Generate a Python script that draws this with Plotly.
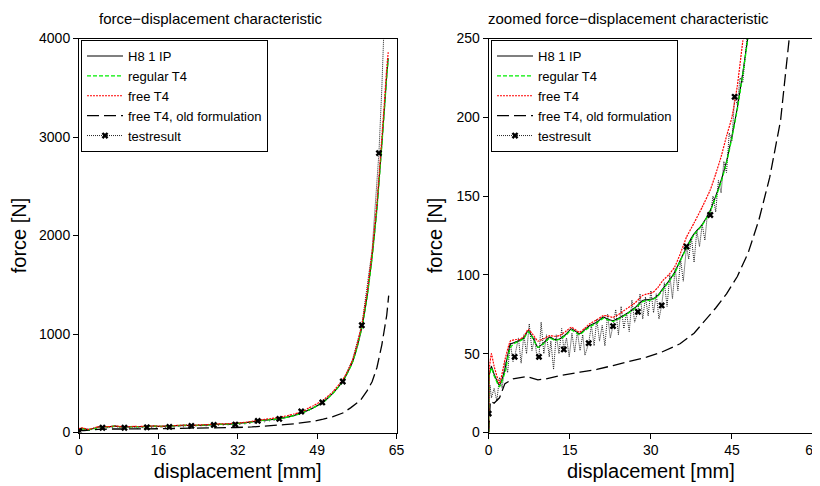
import plotly.graph_objects as go

# ---------------- data ----------------
fe_x = [0, 0.1, 0.5, 1, 2, 3, 4, 5, 5.7, 6.5, 7.3, 8.2, 9.1, 10.2, 11.3, 12.2, 13.1, 14.2,
        15.3, 16.8, 17.7, 18.7, 20, 21.2, 22, 23, 24.3, 25.5, 27, 28.5, 30.4, 31.3, 32.2,
        33.3, 34.4, 35.4, 36.6, 38, 39.5, 41, 42, 43, 44, 45, 46, 47, 48, 50, 52, 54, 55,
        56, 57, 58, 59, 60, 61, 62, 62.5, 63, 63.3]

h8_y = [0, 36, 42, 37, 30, 40, 56, 57.5, 58.4, 60, 64.7, 60, 54, 57, 60.5, 59, 59.4, 62,
        65.8, 62.6, 65, 67.9, 70, 73.2, 72, 71, 73, 75.3, 79, 83.8, 84.8, 87, 91.2, 96,
        101.7, 109, 117.6, 126, 132, 141, 150, 160, 172, 188, 206, 228, 252, 310, 400, 520,
        610, 715, 880, 1090, 1390, 1780, 2280, 2930, 3270, 3620, 3800]

regular_t4_y = [0, 36, 41, 36, 29, 38, 54, 57, 58, 59.5, 64, 59.5, 54, 56.5, 60, 58.5, 59,
                61.5, 65, 62, 64.5, 67, 69.5, 72.5, 71.5, 70.5, 72.5, 75, 78.5, 83, 84.5,
                86.5, 90.5, 95.5, 101, 108.5, 117, 125.5, 131.5, 140.5, 149, 159, 171, 187,
                205, 227, 251, 308, 398, 518, 607, 712, 875, 1085, 1380, 1770, 2270, 2920,
                3260, 3610, 3790]

free_t4_y = [0, 40, 50, 42, 31, 46, 58, 59, 59, 61, 65.5, 62, 58, 59.5, 61.5, 61, 61.5, 64,
             66.8, 63.6, 66, 69, 71.5, 74.2, 74, 73, 75.5, 78.5, 82, 87, 89, 92, 96.4, 100,
             105, 113, 124, 133, 143, 154, 164, 175, 188, 200, 220, 248, 272, 330, 415, 535,
             625, 735, 905, 1120, 1430, 1830, 2340, 3000, 3340, 3700, 3860]

old_x = [0, 0.3, 1, 2, 3, 4.5, 7, 9.1, 10.6, 13, 16.9, 20, 23, 26, 29.2, 32, 35.4, 38, 40,
         42, 44, 46, 48, 50, 52, 54, 55.6, 57.6, 59, 60, 61, 62, 63, 63.4]
old_y = [0, 20, 18.6, 22, 31, 34, 35.5, 33.4, 34, 36, 38.3, 40, 42.5, 45, 47.8, 51, 56.3, 63,
         71, 79, 88, 99, 114, 135, 162, 198, 250, 325, 425, 515, 660, 890, 1190, 1390]

test_x = [0, 0.25, 0.5, 1.0, 1.5, 2.0, 2.5, 3.0, 3.5, 4.0,
          4.5, 4.8, 5.5, 6.0, 6.5, 7.0, 7.5, 8.0, 8.5, 9.0,
          9.3, 9.7, 10.2, 10.7, 11.2, 11.5, 12.0, 12.5, 13.0, 13.5,
          13.9, 14.4, 14.9, 15.4, 15.9, 16.4, 16.9, 17.4, 17.8, 18.5,
          19.0, 19.5, 20.0, 20.5, 21.0, 21.5, 22.0, 22.5, 23.0, 23.5,
          24.0, 24.5, 25.0, 25.5, 26.0, 26.5, 27.0, 27.6, 28.0, 28.5,
          29.0, 29.5, 30.0, 30.5, 31.0, 31.5, 32.0, 32.5, 33.0, 33.5,
          34.0, 34.5, 35.0, 35.5, 36.0, 36.6, 37.0, 37.5, 38.0, 38.5,
          39.0, 39.5, 40.0, 40.5, 41.0, 41.5, 42.0, 42.5, 43.0, 43.5,
          44.0, 44.5, 45.0, 45.5, 46.0, 46.5, 47.0, 47.5, 48.0, 49.8,
          52, 54, 56, 57.9, 60, 61.4, 62.0, 62.5]
test_y = [12, 30, 22, 28, 20, 35, 28, 45, 38, 57,
          45, 48, 60, 44, 62, 50, 69, 52, 60, 46,
          48, 70, 50, 62, 48, 58, 40, 62, 50, 66,
          52.7, 60, 48, 63, 51, 64, 52, 62, 49, 56.7,
          68, 55, 72, 58, 68, 55, 75, 60, 67.5, 78,
          62, 80, 66, 76, 64, 84, 70, 76.6, 88, 72,
          86, 74, 90, 76, 88, 72, 80.6, 95, 80, 100,
          85, 104, 90, 110, 96, 118, 110, 124, 108, 128,
          118, 132, 122, 140, 138, 150, 140, 160, 152, 172,
          165, 190, 185, 213, 208, 225, 222, 237, 255, 305,
          400, 518, 740, 1089, 1850, 2836, 3500, 4200]

mark_x = [0, 4.8, 9.3, 13.9, 18.5, 23.0, 27.6, 32.0, 36.6, 41.0, 45.5, 49.8, 54, 57.9, 61.4]
mark_y = [12, 48, 48, 52.7, 56.7, 67.5, 76.6, 80.6, 118, 138, 213, 305, 518, 1089, 2836]

left_xticks = [0, 16.25, 32.5, 48.75, 65]
left_xticktext = ["0", "16", "32", "49", "65"]
left_yticks = [0, 1000, 2000, 3000, 4000]
right_xticks = [0, 15, 30, 45, 60]
right_yticks = [0, 50, 100, 150, 200, 250]

# ---------------- figure ----------------
# the page body has an 8px margin, so the figure is drawn 8px in from the corner
OFF = 8
W, H = 820 - OFF, 486 - OFF
FONT = "Liberation Sans, Arial, Helvetica, sans-serif"


def px(v):
    return (v - OFF) / W


def py(v):
    return 1 - (v - OFF) / H


def interleave_none(vals):
    out = []
    for v in vals:
        out += [v, None]
    return out


fig = go.Figure()

TEST_LINE = dict(color="#222222", width=1, dash="1px,1px")

for xa, ya, leg in [("x", "y", "legend"), ("x2", "y2", "legend2")]:
    fig.add_trace(go.Scatter(x=test_x, y=test_y, mode="lines", xaxis=xa, yaxis=ya,
                             line=TEST_LINE, showlegend=False, hoverinfo="skip"))
    fig.add_trace(go.Scatter(x=old_x, y=old_y, mode="lines", name="free T4, old formulation",
                             xaxis=xa, yaxis=ya, legend=leg, legendrank=4,
                             line=dict(color="black", width=1.3, dash="12px,5px")))
    fig.add_trace(go.Scatter(x=fe_x, y=h8_y, mode="lines", name="H8 1 IP",
                             xaxis=xa, yaxis=ya, legend=leg, legendrank=1,
                             line=dict(color="black", width=1.1, shape="spline", smoothing=0.4)))
    fig.add_trace(go.Scatter(x=fe_x, y=regular_t4_y, mode="lines", name="regular T4",
                             xaxis=xa, yaxis=ya, legend=leg, legendrank=2,
                             line=dict(color="#00ee00", width=1.3, dash="4px,2px",
                                       shape="spline", smoothing=0.4)))
    fig.add_trace(go.Scatter(x=fe_x, y=free_t4_y, mode="lines", name="free T4",
                             xaxis=xa, yaxis=ya, legend=leg, legendrank=3,
                             line=dict(color="#ff0000", width=1.2, dash="2px,1px",
                                       shape="spline", smoothing=0.4)))
    fig.add_trace(go.Scatter(x=interleave_none(mark_x), y=interleave_none(mark_y),
                             mode="lines+markers", name="testresult",
                             xaxis=xa, yaxis=ya, legend=leg, legendrank=5, connectgaps=False,
                             line=TEST_LINE,
                             marker=dict(symbol="x", size=6, color="black")))

ax_common = dict(showline=True, linecolor="black", linewidth=1, mirror=True,
                 ticks="outside", ticklen=5, tickwidth=1, tickcolor="black",
                 showgrid=False, zeroline=False, automargin=False,
                 ticklabeloverflow="allow",
                 tickfont=dict(family=FONT, size=14, color="black"))

y0 = py(432.5)
y1 = py(38.5)

LEG = dict(xanchor="left", yanchor="top", bordercolor="black", borderwidth=1,
           bgcolor="white", font=dict(family=FONT, size=13, color="black"),
           tracegroupgap=0, itemwidth=36)

fig.update_layout(
    width=W, height=H,
    margin=dict(l=0, r=0, t=0, b=0, autoexpand=False),
    paper_bgcolor="white", plot_bgcolor="white",
    font=dict(family=FONT, color="black"),
    xaxis=dict(domain=[px(79), px(396.5)], range=[0, 65], tickvals=left_xticks,
               ticktext=left_xticktext, anchor="y",
               title=dict(text="displacement [mm]", font=dict(size=20), standoff=6),
               **ax_common),
    yaxis=dict(domain=[y0, y1], range=[0, 4000], tickvals=left_yticks, anchor="x",
               title=dict(text="force [N]", font=dict(size=20), standoff=8),
               **ax_common),
    xaxis2=dict(domain=[px(488.7), px(813)], range=[0, 60], tickvals=right_xticks, anchor="y2",
                title=dict(text="displacement [mm]", font=dict(size=20), standoff=6),
                **ax_common),
    yaxis2=dict(domain=[y0, y1], range=[0, 250], tickvals=right_yticks, anchor="x2",
                title=dict(text="force [N]", font=dict(size=20), standoff=8),
                **ax_common),
    legend=dict(x=px(81), y=py(40), **LEG),
    legend2=dict(x=px(491), y=py(40), **LEG),
    annotations=[
        dict(text="force\u2212displacement characteristic", x=px(97), y=py(19),
             xref="paper", yref="paper", xanchor="left", yanchor="middle", showarrow=False,
             font=dict(family=FONT, size=15, color="black")),
        dict(text="zoomed force\u2212displacement characteristic", x=px(486), y=py(19),
             xref="paper", yref="paper", xanchor="left", yanchor="middle", showarrow=False,
             font=dict(family=FONT, size=15, color="black")),
    ],
)

fig.write_html("out.html")
